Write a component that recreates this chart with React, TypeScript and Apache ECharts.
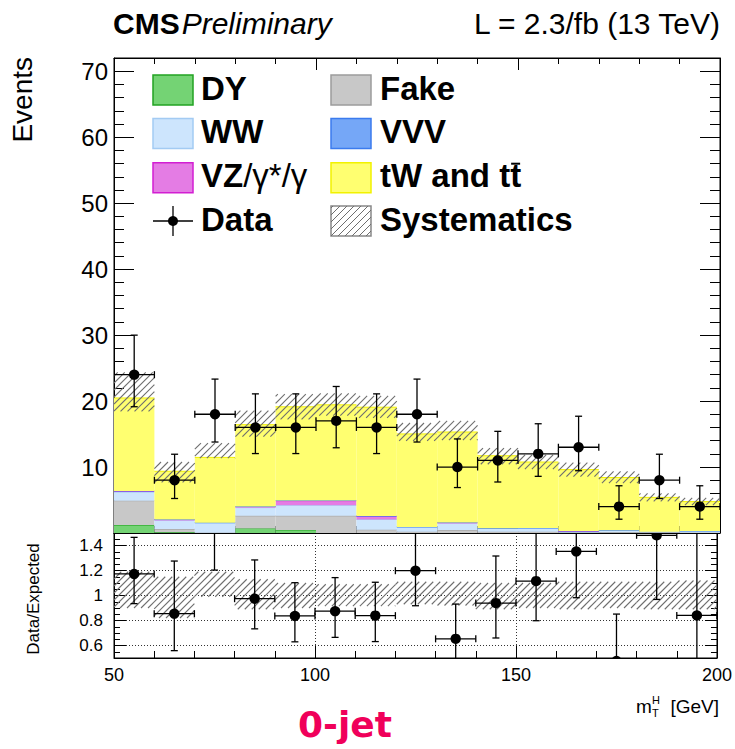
import React, { useEffect, useRef } from "react";
import * as echarts from "echarts";

// Lower edges of the m_T^H bins [GeV], 10 GeV wide
const binLow = [50, 60, 70, 80, 90, 100, 110, 120, 130, 140, 150, 160, 170, 180, 190];
const binWidth = 10;

// Observed events and their asymmetric (Poisson) uncertainties
const dataCounts = [24, 8, 18, 16, 16, 17, 16, 18, 10, 11, 12, 13, 4, 8, 4];
const dataErrLow = [4.86, 2.77, 4.21, 3.96, 3.96, 4.08, 3.96, 4.21, 3.11, 3.27, 3.41, 3.56, 1.91, 2.77, 1.91];
const dataErrHigh = [5.99, 3.94, 5.33, 5.09, 5.09, 5.21, 5.09, 5.33, 4.26, 4.41, 4.56, 4.7, 3.16, 3.94, 3.16];

// Expected yields per process, stacked bottom to top in this order
const dyYield = [1.2, 0.1, 0.0, 0.7, 0.45, 0.0, 0.0, 0.0, 0.0, 0.0, 0.0, 0.0, 0.0, 0.0, 0.0];
const fakeYield = [3.7, 0.5, 0.05, 1.9, 2.15, 2.6, 0.5, 0.2, 0.45, 0.2, 0.2, 0.1, 0.1, 0.1, 0.05];
const wwYield = [1.3, 1.3, 1.5, 1.25, 1.6, 1.6, 1.55, 0.7, 1.0, 0.5, 0.55, 0.05, 0.3, 0.1, 0.25];
const vzYield = [0.15, 0.15, 0.0, 0.15, 0.7, 0.7, 0.5, 0.0, 0.15, 0.0, 0.0, 0.15, 0.0, 0.0, 0.0];
const vvvYield = [0.02, 0.01, 0.01, 0.02, 0.03, 0.03, 0.02, 0.02, 0.01, 0.01, 0.01, 0.01, 0.01, 0.0, 0.01];
const topYield = [14.1, 7.3, 9.9, 12.4, 14.2, 14.5, 16.5, 14.1, 13.7, 11.0, 10.0, 9.3, 8.0, 5.2, 4.45];

// Systematic band, relative to the total expectation
const systUp = [1.19, 1.15, 1.19, 1.13, 1.1, 1.09, 1.09, 1.11, 1.11, 1.1, 1.1, 1.11, 1.11, 1.11, 1.12];
const systDown = [0.9, 0.82, 0.99, 0.89, 0.9, 0.915, 0.915, 0.93, 0.92, 0.89, 0.9, 0.89, 0.9, 0.89, 0.89];

const FONT = '"Liberation Sans", Arial, Helvetica, sans-serif';

const processes = [
  { name: "DY", values: dyYield, fill: "#74d374", stroke: "#22a322" },
  { name: "Fake", values: fakeYield, fill: "#c8c8c8", stroke: "#9c9c9c" },
  { name: "WW", values: wwYield, fill: "#cde5fd", stroke: "#a3cbf3" },
  { name: "VZ", values: vzYield, fill: "#e47ce4", stroke: "#d21ed2" },
  { name: "VVV", values: vvvYield, fill: "#75a7f7", stroke: "#3b7bee" },
  { name: "top", values: topYield, fill: "#ffff70", stroke: "#f2f200" },
];

const HATCH = "#6e6e6e";

// Diagonal "/" hatch segments clipped to a screen rectangle (lines x + y = c)
function hatchSegments(x0: number, y0: number, x1: number, y1: number, spacing: number) {
  const segs: number[][] = [];
  const cStart = Math.ceil((x0 + y0) / spacing) * spacing;
  for (let c = cStart; c <= x1 + y1; c += spacing) {
    const xa = Math.max(x0, c - y1);
    const xb = Math.min(x1, c - y0);
    if (xb > xa) segs.push([xa, c - xa, xb, c - xb]);
  }
  return segs;
}

function seg(x1: number, y1: number, x2: number, y2: number, stroke: string, lineWidth: number) {
  return { type: "line", shape: { x1, y1, x2, y2 }, style: { stroke, lineWidth } };
}

function histRenderer(fill: string, stroke: string) {
  return (_p: any, api: any) => {
    const a = api.coord([api.value(0), api.value(2)]);
    const b = api.coord([api.value(1), api.value(3)]);
    const h = a[1] - b[1];
    if (h <= 0.05) return null;
    return {
      type: "group",
      children: [
        { type: "rect", shape: { x: a[0], y: b[1], width: b[0] - a[0], height: h }, style: { fill } },
        seg(a[0], b[1], b[0], b[1], stroke, 1),
      ],
    };
  };
}

function bandRenderer(_p: any, api: any) {
  const a = api.coord([api.value(0), api.value(2)]);
  const b = api.coord([api.value(1), api.value(3)]);
  const segs = hatchSegments(a[0], b[1], b[0], a[1], 7);
  return {
    type: "group",
    children: segs.map((s) => seg(s[0], s[1], s[2], s[3], HATCH, 1.1)),
  };
}

function pointRenderer(_p: any, api: any) {
  const xc = api.value(0);
  const y = api.value(1);
  const c = api.coord([xc, y]);
  const l = api.coord([api.value(2), y]);
  const r = api.coord([api.value(3), y]);
  const lo = api.coord([xc, api.value(4)]);
  const hi = api.coord([xc, api.value(5)]);
  const cap = 3.5;
  const k = "#000";
  const w = 1.3;
  return {
    type: "group",
    children: [
      seg(l[0], c[1], r[0], c[1], k, w),
      seg(l[0], c[1] - cap, l[0], c[1] + cap, k, w),
      seg(r[0], c[1] - cap, r[0], c[1] + cap, k, w),
      seg(c[0], hi[1], c[0], lo[1], k, w),
      seg(c[0] - cap, hi[1], c[0] + cap, hi[1], k, w),
      seg(c[0] - cap, lo[1], c[0] + cap, lo[1], k, w),
      { type: "circle", shape: { cx: c[0], cy: c[1], r: 5.2 }, style: { fill: k } },
    ],
  };
}

function textWidth(text: string, font: string) {
  const ctx = document.createElement("canvas").getContext("2d");
  if (!ctx) return text.length * 10;
  ctx.font = font;
  return ctx.measureText(text).width;
}

function buildOption() {
  const totals = binLow.map((_, i) => processes.reduce((s, p) => s + p.values[i], 0));

  // stacked histogram series
  const base = binLow.map(() => 0);
  const histSeries = processes.map((p) => {
    const rows = binLow.map((lo, i) => {
      const b0 = base[i];
      base[i] += p.values[i];
      return [lo, lo + binWidth, b0, base[i]];
    });
    return {
      type: "custom",
      name: p.name,
      xAxisIndex: 0,
      yAxisIndex: 0,
      clip: true,
      z: 2,
      encode: { x: [0, 1], y: [2, 3] },
      data: rows,
      renderItem: histRenderer(p.fill, p.stroke),
    };
  });

  const mainBand = binLow.map((lo, i) => [lo, lo + binWidth, totals[i] * systDown[i], totals[i] * systUp[i]]);
  const ratioBand = binLow.map((lo, i) => [lo, lo + binWidth, systDown[i], systUp[i]]);
  const mainPoints = binLow.map((lo, i) => [
    lo + binWidth / 2,
    dataCounts[i],
    lo,
    lo + binWidth,
    dataCounts[i] - dataErrLow[i],
    dataCounts[i] + dataErrHigh[i],
  ]);
  const ratioPoints = binLow.map((lo, i) => [
    lo + binWidth / 2,
    dataCounts[i] / totals[i],
    lo,
    lo + binWidth,
    (dataCounts[i] - dataErrLow[i]) / totals[i],
    (dataCounts[i] + dataErrHigh[i]) / totals[i],
  ]);

  const black = { color: "#000", width: 1 };
  const dotted = { color: "#333", width: 1, type: [1, 2] };

  const xCommon = {
    type: "value",
    min: 50,
    max: 200,
    interval: 50,
    axisLine: { show: true, onZero: false, lineStyle: black },
    splitLine: { show: false },
  };

  // legend drawn as graphics
  const LEG_SIZE = 33;
  const legendFont = `bold ${LEG_SIZE}px ${FONT}`;
  const rowsY = [90, 133.5, 177.7, 221];
  const col1 = 153;
  const col2 = 331;
  const boxW = 40;
  const boxH = 30;
  const legendGraphics: any[] = [];
  const addBox = (x: number, cy: number, fill: string, stroke: string) => {
    legendGraphics.push({
      type: "rect",
      shape: { x, y: cy - boxH / 2, width: boxW, height: boxH },
      style: { fill, stroke, lineWidth: 1.5 },
    });
  };
  const addText = (x: number, cy: number, text: string) => {
    legendGraphics.push({
      type: "text",
      x,
      y: cy - 2,
      style: { text, fill: "#000", fontFamily: FONT, fontWeight: "bold", fontSize: LEG_SIZE, verticalAlign: "middle" },
    });
  };
  const proc = (n: string) => processes.find((p) => p.name === n)!;
  addBox(col1, rowsY[0], proc("DY").fill, proc("DY").stroke);
  addText(col1 + 48, rowsY[0], "DY");
  addBox(col2, rowsY[0], proc("Fake").fill, proc("Fake").stroke);
  addText(col2 + 49, rowsY[0], "Fake");
  addBox(col1, rowsY[1], proc("WW").fill, proc("WW").stroke);
  addText(col1 + 48, rowsY[1], "WW");
  addBox(col2, rowsY[1], proc("VVV").fill, proc("VVV").stroke);
  addText(col2 + 49, rowsY[1], "VVV");
  addBox(col1, rowsY[2], proc("VZ").fill, proc("VZ").stroke);
  legendGraphics.push({
    type: "text",
    x: col1 + 48,
    y: rowsY[2] - 2,
    style: {
      text: "{b|VZ}{r|/γ*/γ}",
      verticalAlign: "middle",
      rich: {
        b: { fontFamily: FONT, fontWeight: "bold", fontSize: LEG_SIZE, fill: "#000" },
        r: { fontFamily: FONT, fontSize: LEG_SIZE, fill: "#000" },
      },
    },
  });
  addBox(col2, rowsY[2], proc("top").fill, proc("top").stroke);
  const topLabel = "tW and tt";
  addText(col2 + 49, rowsY[2], topLabel);
  const tx0 = col2 + 49 + textWidth("tW and t", legendFont);
  const tx1 = col2 + 49 + textWidth(topLabel, legendFont);
  legendGraphics.push(seg(tx0 + 1, rowsY[2] - 14, tx1 - 1, rowsY[2] - 14, "#000", 2));
  // Data marker
  const dy = rowsY[3];
  legendGraphics.push(seg(col1, dy, col1 + boxW, dy, "#000", 1.3));
  legendGraphics.push(seg(col1 + boxW / 2, dy - 15, col1 + boxW / 2, dy + 15, "#000", 1.3));
  legendGraphics.push({ type: "circle", shape: { cx: col1 + boxW / 2, cy: dy, r: 5 }, style: { fill: "#000" } });
  addText(col1 + 48, rowsY[3], "Data");
  // Systematics box
  legendGraphics.push({
    type: "rect",
    shape: { x: col2, y: dy - boxH / 2, width: boxW, height: boxH },
    style: { fill: "#fff", stroke: "#888", lineWidth: 1.5 },
  });
  hatchSegments(col2, dy - boxH / 2, col2 + boxW, dy + boxH / 2, 7).forEach((s) =>
    legendGraphics.push(seg(s[0], s[1], s[2], s[3], HATCH, 1))
  );
  addText(col2 + 49, rowsY[3], "Systematics");

  const TITLE_SIZE = 30;
  const cmsFont = `bold ${TITLE_SIZE}px ${FONT}`;
  const cmsW = textWidth("CMS", cmsFont);

  const titleGraphics = [
    {
      type: "text",
      x: 113,
      y: 23,
      style: { text: "CMS", fontFamily: FONT, fontWeight: "bold", fontSize: TITLE_SIZE, fill: "#000", verticalAlign: "middle" },
    },
    {
      type: "text",
      x: 113 + cmsW + 2,
      y: 23,
      style: { text: "Preliminary", fontFamily: FONT, fontStyle: "italic", fontSize: TITLE_SIZE, fill: "#000", verticalAlign: "middle" },
    },
    {
      type: "text",
      x: 720,
      y: 23,
      style: { text: "L = 2.3/fb (13 TeV)", fontFamily: FONT, fontSize: TITLE_SIZE, fill: "#000", align: "right", verticalAlign: "middle" },
    },
    {
      type: "text",
      x: 22,
      y: 57,
      rotation: Math.PI / 2,
      style: { text: "Events", fontFamily: FONT, fontSize: 28, fill: "#000", align: "right", verticalAlign: "middle" },
    },
    {
      type: "text",
      x: 33,
      y: 599,
      rotation: Math.PI / 2,
      style: { text: "Data/Expected", fontFamily: FONT, fontSize: 17, fill: "#000", align: "center", verticalAlign: "middle" },
    },
    {
      type: "text",
      x: 636,
      y: 706,
      style: { text: "m", fontFamily: FONT, fontSize: 19, fill: "#000", verticalAlign: "middle" },
    },
    {
      type: "text",
      x: 652,
      y: 700,
      style: { text: "H", fontFamily: FONT, fontSize: 11, fill: "#000", verticalAlign: "middle" },
    },
    {
      type: "text",
      x: 652,
      y: 713,
      style: { text: "T", fontFamily: FONT, fontSize: 11, fill: "#000", verticalAlign: "middle" },
    },
    {
      type: "text",
      x: 719,
      y: 706,
      style: { text: "[GeV]", fontFamily: FONT, fontSize: 19, fill: "#000", align: "right", verticalAlign: "middle" },
    },
    {
      type: "text",
      x: 345,
      y: 724,
      style: {
        text: "0-jet",
        fontFamily: '"DejaVu Sans", sans-serif',
        fontWeight: "bold",
        fontSize: 36,
        fill: "#f0005a",
        align: "center",
        verticalAlign: "middle",
      },
    },
  ];

  return {
    animation: false,
    backgroundColor: "#fff",
    grid: [
      { left: 114, top: 58, width: 606, height: 475, show: true, borderColor: "#000", borderWidth: 1, backgroundColor: "transparent" },
      { left: 114, top: 533, width: 606, height: 125, show: true, borderColor: "#000", borderWidth: 1, backgroundColor: "transparent" },
    ],
    xAxis: [
      {
        ...xCommon,
        gridIndex: 0,
        position: "bottom",
        axisTick: { show: true, inside: true, length: 13, lineStyle: black },
        minorTick: { show: true, splitNumber: 5, length: 7, lineStyle: black },
        axisLabel: { show: false },
      },
      {
        ...xCommon,
        gridIndex: 0,
        position: "top",
        axisTick: { show: true, inside: true, length: 12, lineStyle: black },
        minorTick: { show: true, splitNumber: 5, length: 6, lineStyle: black },
        axisLabel: { show: false },
      },
      {
        ...xCommon,
        gridIndex: 1,
        position: "bottom",
        axisTick: { show: true, inside: true, length: 12, lineStyle: black },
        minorTick: { show: true, splitNumber: 5, length: 7, lineStyle: black },
        axisLabel: { show: true, margin: 8, color: "#000", fontFamily: FONT, fontSize: 18, showMinLabel: true, showMaxLabel: true },
        splitLine: { show: true, lineStyle: dotted },
      },
      {
        ...xCommon,
        gridIndex: 1,
        position: "top",
        axisTick: { show: false },
        axisLabel: { show: false },
      },
    ],
    yAxis: [
      {
        type: "value",
        gridIndex: 0,
        position: "left",
        min: 0,
        max: 72,
        interval: 10,
        axisLine: { show: true, onZero: false, lineStyle: black },
        axisTick: { show: true, inside: true, length: 20, lineStyle: black },
        minorTick: { show: true, splitNumber: 5, length: 10, lineStyle: black },
        splitLine: { show: false },
        axisLabel: {
          show: true,
          margin: 6,
          color: "#000",
          fontFamily: FONT,
          fontSize: 24,
          formatter: (v: number) => (v > 0 && v < 71 ? String(v) : ""),
        },
      },
      {
        type: "value",
        gridIndex: 0,
        position: "right",
        min: 0,
        max: 72,
        interval: 10,
        axisLine: { show: true, onZero: false, lineStyle: black },
        axisTick: { show: true, inside: true, length: 20, lineStyle: black },
        minorTick: { show: true, splitNumber: 5, length: 10, lineStyle: black },
        splitLine: { show: false },
        axisLabel: { show: false },
      },
      {
        type: "value",
        gridIndex: 1,
        position: "left",
        min: 0.5,
        max: 1.5,
        splitNumber: 5,
        axisLine: { show: true, onZero: false, lineStyle: black },
        axisTick: { show: true, inside: true, length: 12, lineStyle: black },
        minorTick: { show: true, splitNumber: 4, length: 6, lineStyle: black },
        splitLine: { show: true, lineStyle: dotted },
        axisLabel: {
          show: true,
          margin: 11,
          color: "#000",
          fontFamily: FONT,
          fontSize: 17,
          formatter: (v: number) => {
            const r = Math.round(v * 10) / 10;
            return r <= 0.5 || r >= 1.5 ? "" : String(r);
          },
        },
      },
      {
        type: "value",
        gridIndex: 1,
        position: "right",
        min: 0.5,
        max: 1.5,
        splitNumber: 5,
        axisLine: { show: true, onZero: false, lineStyle: black },
        axisTick: { show: true, inside: true, length: 12, lineStyle: black },
        minorTick: { show: true, splitNumber: 4, length: 6, lineStyle: black },
        splitLine: { show: false },
        axisLabel: { show: false },
      },
    ],
    series: [
      ...histSeries,
      {
        type: "custom",
        name: "Systematics",
        xAxisIndex: 0,
        yAxisIndex: 0,
        clip: true,
        z: 3,
        encode: { x: [0, 1], y: [2, 3] },
        data: mainBand,
        renderItem: bandRenderer,
      },
      {
        type: "custom",
        name: "Data",
        xAxisIndex: 0,
        yAxisIndex: 0,
        clip: true,
        z: 4,
        encode: { x: [0, 2, 3], y: [1, 4, 5] },
        data: mainPoints,
        renderItem: pointRenderer,
      },
      {
        type: "custom",
        name: "Systematics ratio",
        xAxisIndex: 2,
        yAxisIndex: 2,
        clip: true,
        z: 3,
        encode: { x: [0, 1], y: [2, 3] },
        data: ratioBand,
        renderItem: bandRenderer,
      },
      {
        type: "custom",
        name: "Data/Expected",
        xAxisIndex: 2,
        yAxisIndex: 2,
        clip: true,
        z: 4,
        encode: { x: [0, 2, 3], y: [1, 4, 5] },
        data: ratioPoints,
        renderItem: pointRenderer,
      },
    ],
    graphic: [...legendGraphics, ...titleGraphics],
  };
}

export default function App() {
  const ref = useRef<HTMLDivElement>(null);
  useEffect(() => {
    if (!ref.current) return;
    const chart = echarts.init(ref.current, null, { renderer: "svg" });
    chart.setOption(buildOption() as any);
    return () => chart.dispose();
  }, []);
  return (
    <div
      ref={ref}
      style={{ position: "absolute", left: 0, top: 0, width: 735, height: 749, background: "#fff" }}
    />
  );
}
